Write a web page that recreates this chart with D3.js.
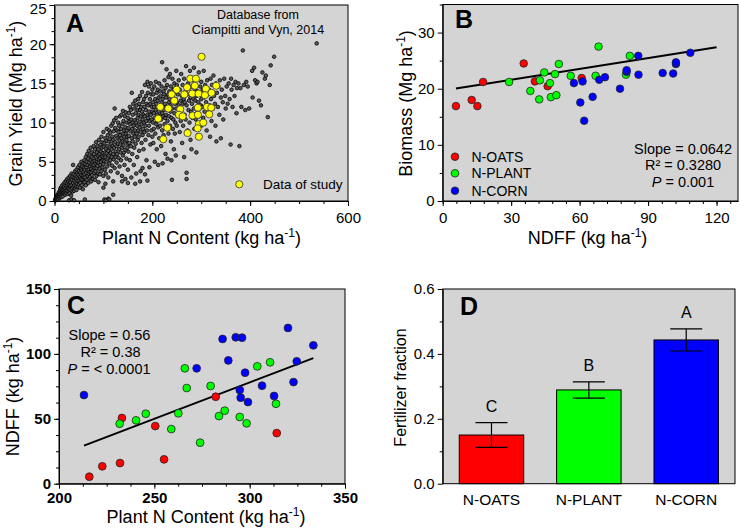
<!DOCTYPE html>
<html><head><meta charset="utf-8">
<script src="https://cdn.jsdelivr.net/npm/d3@7"></script>
<style>
body{margin:0;background:#fff}
text{font-family:"Liberation Sans",Arial,sans-serif;fill:#000}
</style>
</head><body>
<svg id="chart" width="740" height="532"></svg>
<script>
// ---------------- DATA ----------------
// Panel A: database cloud (Plant N content, grain yield) pairs, flattened [x,y,x,y,...]
const cloud0_30 = [1,0.1,2,0.3,3,0.1,4,0.4,4,0.2,5,0.6,6,0.3,6,0.8,7,0.5,8,0.2,8,0.9,9,0.6,9,1.1,10,0.4,10,0.8,11,1.3,11,0.6,12,1.0,12,1.6,13,0.8,13,1.3,14,0.5,14,1.8,15,1.1,15,1.5,16,0.9,16,2.0,17,1.3,17,0.6,18,1.7,18,1.0,19,2.2,19,1.4,20,0.9,20,1.8,21,1.2,21,2.4,22,1.6,22,0.8,23,2.0,23,1.3,24,2.6,24,1.0,25,1.7,25,2.2,26,1.3,26,2.8,27,0.9,27,2.0,28,1.6,28,2.5,29,1.2,29,3.0,30,2.1,30,1.5,30,0.1];
const cloud30_60 = [31,2.6,31,1.0,32,1.9,32,3.2,33,1.4,33,2.4,34,2.9,34,0.7,35,2.0,35,3.5,35,0.2,36,1.6,36,2.7,37,3.1,37,1.2,38,2.3,38,4.6,39,1.8,39,3.4,40,2.6,40,1.3,40,0.1,41,3.0,41,2.0,42,3.8,42,1.6,43,2.4,43,3.3,44,1.9,44,2.8,45,4.0,45,1.4,46,3.1,46,2.2,47,3.6,47,2.6,48,1.8,48,4.3,49,2.9,49,3.3,50,2.1,50,3.8,51,2.6,51,4.6,52,3.1,52,1.7,53,3.6,53,2.3,54,4.1,54,2.8,55,3.3,55,5.0,56,2.0,56,3.9,57,2.7,57,4.4,58,3.2,58,1.5,59,3.7,59,4.8,60,2.5,60,4.2,60,3.0,62,0.2];
const cloud60_100 = [61,3.4,61,5.2,62,2.4,62,4.0,63,3.0,63,4.7,64,5.6,64,2.0,65,3.6,65,4.3,66,2.7,66,5.0,67,3.9,67,6.0,68,3.2,68,4.6,69,2.3,69,5.4,70,4.0,70,3.5,70,6.4,71,4.9,71,2.9,72,3.7,72,5.8,73,4.4,73,3.1,74,5.2,74,6.8,75,2.5,75,4.1,75,3.6,76,5.6,76,4.7,77,3.3,77,6.2,78,4.4,78,5.0,79,2.8,79,3.9,80,5.4,80,4.6,80,7.0,81,3.6,81,6.0,82,4.2,82,5.1,83,2.7,83,6.6,84,4.8,84,3.8,85,5.6,85,7.5,86,4.2,86,3.2,87,6.2,87,5.0,88,4.5,88,7.0,89,3.5,89,5.8,90,6.6,90,4.9,90,2.4,91,5.3,91,7.8,92,4.1,92,6.0,93,3.4,93,5.5,94,7.2,94,4.6,95,6.3,95,5.0,96,3.8,96,8.2,97,5.7,97,6.8,98,4.3,98,7.5,99,5.2,99,6.1,100,3.2,100,8.8,100,5.6,100,4.7,101,6.9,102,0.2,104,2.2,105,0.1,110,0.3,112,0.2,120,0.8,100,1.7];
const cloud100_150 = [102,5.1,102,7.4,103,6.2,103,4.0,104,8.0,104,5.6,105,6.7,105,3.5,106,7.7,106,5.0,107,9.2,107,6.1,108,4.4,108,7.0,109,5.5,109,8.4,110,6.4,110,3.0,111,7.6,111,5.8,112,9.0,112,4.8,113,6.8,113,7.9,114,5.2,114,8.7,115,6.1,115,3.8,116,7.3,116,9.6,117,5.6,117,6.6,118,8.2,118,4.5,119,7.0,119,9.9,120,6.0,120,7.8,120,2.5,121,5.3,121,8.9,122,6.8,122,10.3,123,11.8,123,4.2,124,7.5,124,9.3,125,6.3,125,5.6,126,8.3,126,10.6,127,7.0,127,4.9,128,9.0,128,6.0,129,8.0,129,3.6,130,7.3,130,10.0,131,5.5,131,8.8,132,6.6,132,9.6,133,7.8,133,4.4,134,10.8,134,8.4,135,6.2,135,7.2,136,9.2,136,5.2,137,8.0,137,11.0,138,6.8,138,3.2,139,9.8,139,7.6,140,8.6,140,5.8,140,11.5,141,7.1,141,10.2,142,6.2,142,9.0,143,8.2,143,4.6,144,10.8,144,7.6,145,9.4,145,6.5,146,8.6,146,11.3,147,5.4,147,7.8,148,10.0,148,9.0,149,6.8,149,8.2,150,10.6,150,7.3,150,4.0,150,2.3,145,2.8,138,2.5];
const cloud150_200 = [151,9.3,151,6.3,152,11.2,152,8.3,153,7.4,153,10.1,154,12.0,154,5.2,155,8.9,155,9.8,156,7.0,156,11.6,157,10.4,157,3.0,158,8.0,158,13.8,159,9.2,159,6.0,160,11.0,160,10.0,160,7.6,161,12.4,161,8.6,162,9.6,162,4.6,163,11.8,163,6.8,164,10.3,164,8.2,165,12.8,165,9.0,166,7.3,166,11.2,167,10.0,167,3.5,168,8.6,168,12.2,169,9.6,169,5.6,170,11.6,170,10.6,170,7.8,171,13.0,171,9.0,172,8.2,172,11.0,173,12.4,173,6.4,174,10.1,174,9.4,175,13.4,175,11.6,176,8.8,176,3.8,177,10.8,177,12.0,178,7.4,178,9.8,179,11.4,179,13.9,180,10.4,180,8.4,180,4.2,181,12.6,181,9.2,182,11.0,182,6.6,183,13.0,183,10.0,184,8.8,184,12.0,185,14.8,185,10.8,186,9.6,186,7.8,187,13.4,187,11.6,188,10.2,188,5.2,189,12.4,189,9.0,190,15.2,190,11.0,191,13.8,191,10.6,192,8.4,192,12.2,193,14.6,193,9.6,194,11.4,194,4.3,195,13.0,195,10.2,196,12.4,196,7.2,197,15.0,197,11.0,198,9.0,198,13.6,199,10.4,199,12.0,200,14.2,200,8.2,200,11.4,185,3.4,175,2.5,165,2.2,190,2.6];
const cloud200_250 = [201,12.6,201,10.0,202,13.6,202,7.4,203,11.2,203,9.2,204,14.6,204,12.0,205,10.6,205,5.0,206,13.0,206,8.6,207,11.6,207,15.2,208,9.8,208,12.4,209,13.8,209,6.6,210,11.0,210,10.2,211,14.2,211,12.8,212,9.4,212,4.6,213,13.2,213,11.4,214,8.0,214,15.0,215,12.2,215,10.8,216,14.0,216,9.6,217,11.8,217,13.4,218,7.0,218,10.4,219,12.6,219,14.6,220,17.7,220,11.2,220,9.0,221,13.0,221,4.8,222,10.8,222,12.0,223,14.0,223,8.4,224,11.6,224,13.6,225,9.8,225,15.4,226,12.4,226,10.6,227,14.4,227,6.0,228,11.0,228,13.2,229,16.8,229,9.4,230,12.0,230,14.8,231,10.2,231,5.4,232,13.6,232,11.6,233,15.8,233,8.6,234,12.6,234,10.8,235,14.0,235,13.0,236,9.6,236,16.2,237,11.4,237,12.2,238,7.6,238,14.6,239,10.6,239,5.2,240,13.4,240,2.7,241,15.6,241,11.8,242,9.2,242,12.8,243,14.2,243,10.4,244,6.6,244,13.8,245,11.2,245,15.0,246,12.4,246,8.6,247,14.4,247,10.0,248,13.0,248,5.8,249,11.8,249,16.6,250,12.6,250,9.6,250,14.8];
const cloud250_300 = [252,13.6,252,10.8,254,12.2,254,15.4,255,11.2,256,14.2,256,8.8,258,12.8,258,10.2,259,16.2,260,13.4,260,11.6,261,7.4,262,14.8,262,12.4,263,9.6,264,13.0,265,5.6,265,15.6,266,11.0,266,12.6,268,14.0,268,10.4,269,17.2,270,12.2,270,3.6,270,2.8,271,13.6,272,9.0,273,15.0,274,11.6,275,12.8,275,14.4,276,10.0,277,16.6,278,13.2,278,7.8,279,11.4,280,14.6,280,6.6,281,12.4,282,10.6,283,15.4,284,13.0,285,17.0,285,11.8,286,9.2,287,14.2,288,12.8,289,10.4,290,15.8,290,13.4,290,6.2,291,11.2,292,14.0,293,8.4,294,12.6,295,16.4,296,13.8,296,10.8,297,11.8,298,14.6,299,12.2,300,9.6,300,15.2,300,13.0];
const cloud300_600 = [302,12.0,303,14.2,304,10.6,305,16.6,306,13.2,307,11.4,308,14.8,310,12.6,311,9.0,312,15.4,313,13.6,314,11.0,316,14.2,317,12.2,318,8.2,319,15.6,320,13.0,321,10.2,322,14.8,324,11.8,325,16.0,326,13.4,328,12.4,329,9.6,330,15.0,331,7.6,332,13.8,334,12.0,335,14.6,337,11.0,338,15.4,340,13.2,340,8.0,342,14.2,344,12.6,345,10.4,347,15.6,349,13.4,350,11.8,352,14.6,354,12.4,356,15.0,358,13.0,360,7.2,361,15.6,362,14.2,364,12.0,366,14.8,368,13.4,370,15.2,372,11.2,373,14.4,376,15.0,378,7.0,380,14.4,382,12.0,385,19.2,387,14.8,390,11.6,392,15.2,395,14.6,398,11.8,404,16.6,408,17.0,410,15.4,413,15.0,418,12.8,422,12.2,425,16.4,430,15.6,432,16.0,436,10.7,440,14.8,442,17.3,449,18.4,536,20.1,415,15.2,405,13.2];
// Panel A: data of study (yellow)
const studyPlantN = [300.7,277.6,289,249.7,271,286.7,330.6,309.5,239.5,265.3,281.6,294.5,321,307.5,244.9,216.3,232.7,257.1,293.2,311.6,320.4,212,254.4,262,282.3,293.2,316.3,295.2,304.1,230.6,292.5,272,295.2,222.4];
const studyYield   = [18.4,15.6,15.6,14.2,14.5,14.7,14.7,14.3,13.6,13.6,13.7,13.7,13.8,13.5,12.8,12.0,11.8,11.7,11.9,12.0,11.9,10.5,11.0,10.8,10.9,11.0,11.05,9.8,10.0,9.35,9.27,8.67,8.2,7.87];

// Panel B: NDFF vs biomass
const bOatsNDFF = [5.8,12.7,15.2,17.7,35.5,40.4,46.0,60.9];
const bOatsBio  = [16.9,18.0,16.9,21.2,24.5,21.3,20.45,21.9];
const bPlantNDFF = [29.1,38.4,42.3,42.6,44.5,47.0,47.4,49.2,49.8,50.9,56.1,67.0,68.3,80.3,82.0];
const bPlantBio  = [21.2,19.6,18.1,21.5,22.9,21.0,18.5,22.6,18.85,24.4,22.3,22.3,27.5,22.5,25.85];
const bCornNDFF = [57.5,60.3,61.3,62.0,65.7,68.6,71.1,77.7,80.6,80.6,85.7,85.8,96.4,101.0,102.2,102.2,108.5];
const bCornBio  = [21.0,17.55,21.3,14.3,18.55,21.6,22.05,20.0,23.0,23.3,25.85,22.5,22.8,22.7,24.4,24.7,26.4];
const bFit = {slope: 0.0642, intercept: 19.665, xFrom: 5.8, xTo: 120};
const bStats = ["Slope = 0.0642", "R² = 0.3280", "= 0.001"];

// Panel C: Plant N content vs NDFF
const cOatsN = [215.9,222.7,232.0,233.0,250.5,255.1,282.2,314.2];
const cOatsNDFF = [5.4,13.4,15.9,50.6,44.4,18.75,67.0,39.0];
const cPlantN = [231.8,240.4,245.5,258.9,262.6,266.0,267.0,274.0,279.5,283.9,286.9,294.8,298.4,304.0,310.7,313.8];
const cPlantNDFF = [46.2,48.8,53.9,42.1,54.2,88.9,73.7,31.6,75.3,52.1,56.25,51.4,46.5,90.4,93.5,61.6];
const cCornN = [213.1,272.2,285.8,288.8,292.7,296.0,294.8,295.3,297.6,299.1,306.5,312.8,320.1,323.0,324.7,333.4];
const cCornNDFF = [68.3,88.9,111.5,95.0,112.8,112.5,72.2,66.3,85.5,62.9,75.5,67.6,120.0,78.3,94.3,106.6];
const cFit = {slope: 0.56, intercept: -90.0, xFrom: 213.1, xTo: 333.4};
const cStats = ["Slope = 0.56", "R² = 0.38", "= < 0.0001"];

// Panel D: fertilizer fraction
const dCategories = ["N-OATS", "N-PLANT", "N-CORN"];
const dMeans = [0.150, 0.289, 0.443];
const dErrors = [0.038, 0.025, 0.034];
const dLetters = ["C", "B", "A"];

const treatmentColors = ["#ff0000", "#00ff00", "#0000ff"];

// ---------------- DRAWING ----------------
const svg = d3.select("#chart");
const BG = "#d4d4d4";
const pairs = a => { const o = []; for (let i = 0; i < a.length; i += 2) o.push([a[i], a[i+1]]); return o; };
const zip = (xs, ys) => xs.map((v, i) => [v, ys[i]]);

function frame(x, y) {
  const [x0, x1] = x.range(), [y0, y1] = y.range();
  svg.append("rect").attr("x", x0).attr("y", y1).attr("width", x1 - x0).attr("height", y0 - y1)
    .attr("fill", BG).attr("stroke", "#000").attr("stroke-width", 1);
}
function styleAxis(g, size, bold) {
  g.selectAll("text").style("font-size", size + "px").style("font-weight", bold ? "bold" : "normal")
    .attr("fill", "#000");
  g.selectAll("line,path").attr("stroke", "#000");
}
function axes(x, y, o) {
  const y0 = y.range()[0], x0 = x.range()[0];
  svg.append("g").attr("transform", `translate(0,${y0})`)
    .call(d3.axisBottom(x).tickValues(o.xMinor).tickSize(3).tickFormat(""))
    .call(g => g.select(".domain").remove()).call(g => styleAxis(g, 15));
  svg.append("g").attr("transform", `translate(${x0},0)`)
    .call(d3.axisLeft(y).tickValues(o.yMinor).tickSize(3).tickFormat(""))
    .call(g => g.select(".domain").remove()).call(g => styleAxis(g, 15));
  svg.append("g").attr("transform", `translate(0,${y0})`)
    .call(d3.axisBottom(x).tickValues(o.xMajor).tickSize(5).tickSizeOuter(0).tickPadding(o.xPad).tickFormat(o.xFmt || d3.format("d")))
    .call(g => styleAxis(g, 15, o.bold));
  const ya = svg.append("g").attr("transform", `translate(${x0},0)`)
    .call(d3.axisLeft(y).tickValues(o.yMajor).tickSize(5).tickSizeOuter(0).tickPadding(3).tickFormat(o.yFmt || d3.format("d")))
    .call(g => styleAxis(g, 15, o.bold));
  // keep the topmost label inside the page
  if (o.topNudge) ya.selectAll(".tick text").filter(d => d === o.yMajor[o.yMajor.length - 1]).attr("dy", "0.55em");
}
function titleWithUnit(t, before, x, y, rotate) {
  const el = svg.append("text").attr("text-anchor", "middle").style("font-size", "18px");
  if (rotate) el.attr("transform", `translate(${x},${y}) rotate(-90)`);
  else el.attr("x", x).attr("y", y);
  el.append("tspan").text(before + " (" + t + " ha");
  el.append("tspan").text("-1").style("font-size", "12px").attr("dy", -7);
  el.append("tspan").text(")").attr("dy", 7);
}
function panelLetter(l, x, y) {
  svg.append("text").attr("x", x).attr("y", y).text(l).style("font-size", "25px").style("font-weight", "bold");
}
function range(a, b, s) { const o = []; for (let v = a; v <= b + 1e-9; v += s) o.push(+v.toFixed(4)); return o; }

// ---------- Panel A ----------
{
  const x = d3.scaleLinear().domain([0, 600]).range([54.5, 348]);
  const y = d3.scaleLinear().domain([0, 25]).range([201, 5]);
  frame(x, y);
  const cloud = [cloud0_30, cloud30_60, cloud60_100, cloud100_150, cloud150_200, cloud200_250, cloud250_300, cloud300_600].flatMap(pairs);
  svg.append("g").selectAll("circle").data(cloud).join("circle")
    .attr("cx", d => x(d[0])).attr("cy", d => y(d[1])).attr("r", 1.8)
    .attr("fill", "#5a5a5a").attr("stroke", "#000").attr("stroke-width", 0.8);
  svg.append("g").selectAll("circle").data(zip(studyPlantN, studyYield)).join("circle")
    .attr("cx", d => x(d[0])).attr("cy", d => y(d[1])).attr("r", 3.6)
    .attr("fill", "#ffff00").attr("stroke", "#333").attr("stroke-width", 0.8);
  axes(x, y, {xMajor: [0, 200, 400, 600], xMinor: range(0, 600, 50), yMajor: [0, 5, 10, 15, 20, 25], yMinor: range(0, 25, 5/3), xPad: 6, topNudge: true});
  panelLetter("A", 66, 31.5);
  svg.append("text").attr("x", 258).attr("y", 18.5).attr("text-anchor", "middle").style("font-size", "12.5px").text("Database from");
  svg.append("text").attr("x", 258).attr("y", 33.5).attr("text-anchor", "middle").style("font-size", "12.5px").text("Ciampitti and Vyn, 2014");
  svg.append("circle").attr("cx", 239.3).attr("cy", 184.3).attr("r", 3.6).attr("fill", "#ffff00").attr("stroke", "#333").attr("stroke-width", 0.8);
  svg.append("text").attr("x", 263).attr("y", 189).style("font-size", "13.5px").text("Data of study");
  titleWithUnit("kg", "Plant N Content", 201.5, 244, false);
  titleWithUnit("Mg", "Grain Yield", 22, 103.5, true);
}

// ---------- Panel B ----------
{
  const x = d3.scaleLinear().domain([0, 129.4]).range([442.7, 738]);
  const y = d3.scaleLinear().domain([0, 35]).range([201, 4.5]);
  frame(x, y);
  svg.append("line").attr("x1", x(bFit.xFrom)).attr("y1", y(bFit.intercept + bFit.slope * bFit.xFrom))
    .attr("x2", x(bFit.xTo)).attr("y2", y(bFit.intercept + bFit.slope * bFit.xTo))
    .attr("stroke", "#000").attr("stroke-width", 2);
  const groups = [zip(bOatsNDFF, bOatsBio), zip(bPlantNDFF, bPlantBio), zip(bCornNDFF, bCornBio)];
  groups.forEach((g, i) => {
    svg.append("g").selectAll("circle").data(g).join("circle")
      .attr("cx", d => x(d[0])).attr("cy", d => y(d[1])).attr("r", 3.8)
      .attr("fill", treatmentColors[i]).attr("stroke", "#222").attr("stroke-width", 0.8);
  });
  axes(x, y, {xMajor: [0, 30, 60, 90, 120], xMinor: range(0, 126, 6), yMajor: [0, 10, 20, 30], yMinor: range(5, 35, 10), xPad: 6});
  panelLetter("B", 455, 27.5);
  const ly = [156.7, 173.3, 190.7];
  dCategories.forEach((c, i) => {
    svg.append("circle").attr("cx", 455).attr("cy", ly[i]).attr("r", 3.8).attr("fill", treatmentColors[i]).attr("stroke", "#222").attr("stroke-width", 0.8);
    svg.append("text").attr("x", 471.5).attr("y", ly[i] + 5).style("font-size", "14px").text(c);
  });
  svg.append("text").attr("x", 683).attr("y", 153.5).attr("text-anchor", "middle").style("font-size", "14.5px").text(bStats[0]);
  svg.append("text").attr("x", 683).attr("y", 169.5).attr("text-anchor", "middle").style("font-size", "14.5px").text(bStats[1]);
  const p = svg.append("text").attr("x", 683).attr("y", 186.5).attr("text-anchor", "middle").style("font-size", "14.5px");
  p.append("tspan").text("P").style("font-style", "italic"); p.append("tspan").text(" " + bStats[2]);
  titleWithUnit("kg", "NDFF", 587.5, 244, false);
  titleWithUnit("Mg", "Biomass", 412, 103.5, true);
}

// ---------- Panel C ----------
{
  const x = d3.scaleLinear().domain([200, 350]).range([59, 345]);
  const y = d3.scaleLinear().domain([0, 150]).range([483.7, 289]);
  frame(x, y);
  svg.append("line").attr("x1", x(cFit.xFrom)).attr("y1", y(cFit.intercept + cFit.slope * cFit.xFrom))
    .attr("x2", x(cFit.xTo)).attr("y2", y(cFit.intercept + cFit.slope * cFit.xTo))
    .attr("stroke", "#000").attr("stroke-width", 2);
  const groups = [zip(cOatsN, cOatsNDFF), zip(cPlantN, cPlantNDFF), zip(cCornN, cCornNDFF)];
  groups.forEach((g, i) => {
    svg.append("g").selectAll("circle").data(g).join("circle")
      .attr("cx", d => x(d[0])).attr("cy", d => y(d[1])).attr("r", 3.9)
      .attr("fill", treatmentColors[i]).attr("stroke", "#222").attr("stroke-width", 0.8);
  });
  axes(x, y, {xMajor: [200, 250, 300, 350], xMinor: range(200, 350, 12.5), yMajor: [0, 50, 100, 150], yMinor: range(0, 150, 12.5), xPad: 4, bold: true});
  panelLetter("C", 67, 313.5);
  svg.append("text").attr("x", 109.5).attr("y", 340).attr("text-anchor", "middle").style("font-size", "14.5px").text(cStats[0]);
  svg.append("text").attr("x", 110.5).attr("y", 357).attr("text-anchor", "middle").style("font-size", "14.5px").text(cStats[1]);
  const p = svg.append("text").attr("x", 109).attr("y", 374).attr("text-anchor", "middle").style("font-size", "14.5px");
  p.append("tspan").text("P").style("font-style", "italic"); p.append("tspan").text(" " + cStats[2]);
  titleWithUnit("kg", "Plant N Content", 206, 523, false);
  titleWithUnit("kg", "NDFF", 19, 396.5, true);
}

// ---------- Panel D ----------
{
  const x = d3.scaleBand().domain(dCategories).range([442.7, 735]).paddingInner(0.338).paddingOuter(0.17);
  const y = d3.scaleLinear().domain([0, 0.6]).range([483.7, 289]);
  svg.append("rect").attr("x", 442.7).attr("y", 289).attr("width", 735 - 442.7).attr("height", 483.7 - 289)
    .attr("fill", BG).attr("stroke", "#000").attr("stroke-width", 1);
  svg.append("g").selectAll("rect").data(dCategories).join("rect")
    .attr("x", d => x(d)).attr("width", x.bandwidth())
    .attr("y", (d, i) => y(dMeans[i])).attr("height", (d, i) => y(0) - y(dMeans[i]))
    .attr("fill", (d, i) => treatmentColors[i]).attr("stroke", "#000").attr("stroke-width", 1);
  dCategories.forEach((c, i) => {
    const cx = x(c) + x.bandwidth() / 2, hi = y(dMeans[i] + dErrors[i]), lo = y(dMeans[i] - dErrors[i]);
    const g = svg.append("g").attr("stroke", "#000").attr("stroke-width", 1.2);
    g.append("line").attr("x1", cx).attr("x2", cx).attr("y1", hi).attr("y2", lo);
    g.append("line").attr("x1", cx - 16).attr("x2", cx + 16).attr("y1", hi).attr("y2", hi);
    g.append("line").attr("x1", cx - 16).attr("x2", cx + 16).attr("y1", lo).attr("y2", lo);
    svg.append("text").attr("x", cx).attr("y", hi - 10.5).attr("text-anchor", "middle").style("font-size", "16px").text(dLetters[i]);
  });
  svg.append("g").attr("transform", "translate(442.7,0)")
    .call(d3.axisLeft(y).tickValues([0.1, 0.3, 0.5]).tickSize(3).tickFormat(""))
    .call(g => g.select(".domain").remove()).call(g => styleAxis(g, 15));
  svg.append("g").attr("transform", "translate(442.7,0)")
    .call(d3.axisLeft(y).tickValues([0, 0.2, 0.4, 0.6]).tickSize(5).tickSizeOuter(0).tickPadding(3).tickFormat(d3.format(".1f")))
    .call(g => styleAxis(g, 15));
  svg.append("g").attr("transform", "translate(0,483.7)")
    .call(d3.axisBottom(x).tickSize(0).tickPadding(10))
    .call(g => g.select(".domain").remove()).call(g => styleAxis(g, 15.5));
  panelLetter("D", 460, 315);
  svg.append("text").attr("transform", "translate(406,387.5) rotate(-90)").attr("text-anchor", "middle").style("font-size", "16px").text("Fertilizer fraction");
}
</script>
</body></html>
